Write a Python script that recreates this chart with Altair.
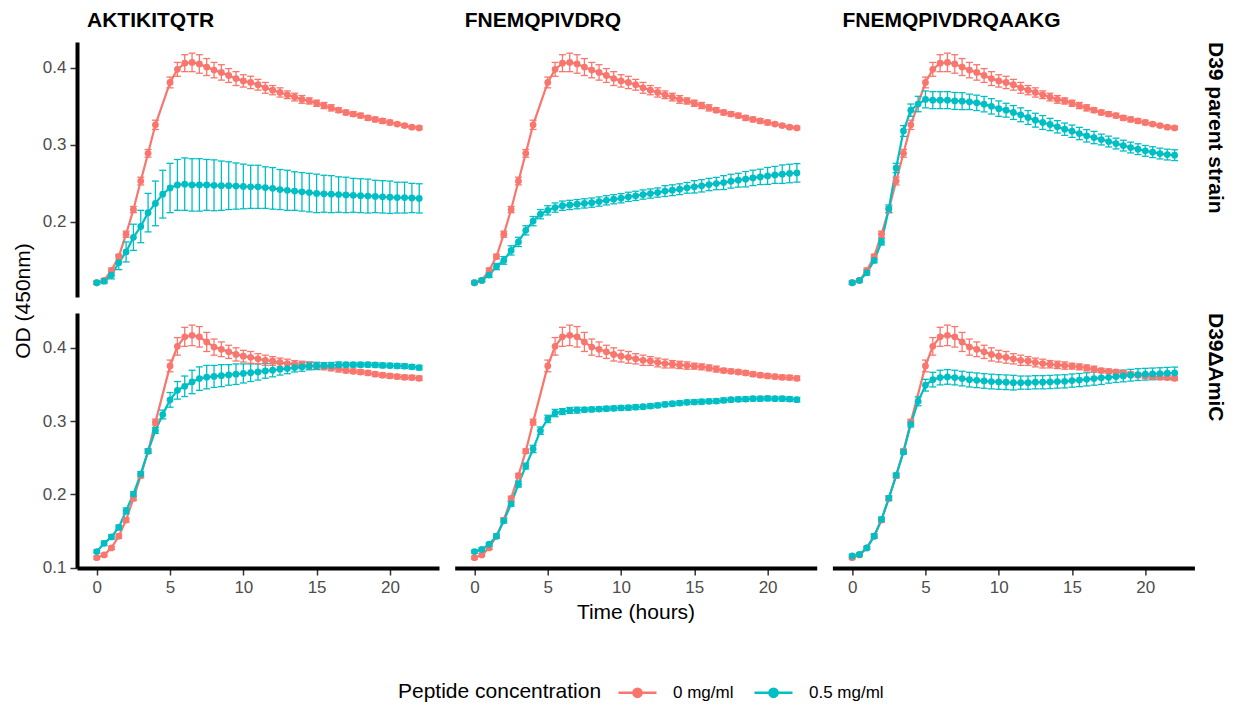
import altair as alt
import pandas as pd

FONT = "Liberation Sans"
RED = "#F8766D"
BLUE = "#00BFC4"

TIME = [0, 0.5, 1, 1.5, 2, 2.5, 3, 3.5, 4, 4.5, 5, 5.5, 6, 6.5, 7, 7.5, 8, 8.5, 9, 9.5,
        10, 10.5, 11, 11.5, 12, 12.5, 13, 13.5, 14, 14.5, 15, 15.5, 16, 16.5, 17, 17.5,
        18, 18.5, 19, 19.5, 20, 20.5, 21, 21.5, 22]

PEPTIDES = ["AKTIKITQTR", "FNEMQPIVDRQ", "FNEMQPIVDRQAAKG"]
STRAINS = ["D39 parent strain", "D39\u0394AmiC"]
CONCS = ["0 mg/ml", "0.5 mg/ml"]

# ---- D39 parent strain ----
RED_PARENT = [0.121, 0.124, 0.137, 0.155, 0.184, 0.216, 0.253, 0.289, 0.326, None,
              0.381, 0.398, 0.406, 0.407, 0.405, 0.401, 0.397, 0.394, 0.390, 0.386,
              0.383, 0.381, 0.378, 0.374, 0.371, 0.368, 0.365, 0.362, 0.359, 0.357,
              0.354, 0.351, 0.348, 0.345, 0.342, 0.340, 0.338, 0.335, 0.333, 0.331,
              0.329, 0.327, 0.325, 0.323, 0.322]
RED_PARENT_SE = [0.002, 0.002, 0.003, 0.003, 0.004, 0.004, 0.005, 0.005, 0.006, None,
                 0.007, 0.009, 0.011, 0.012, 0.012, 0.011, 0.010, 0.010, 0.009, 0.009,
                 0.008, 0.008, 0.007, 0.007, 0.006, 0.006, 0.005, 0.005, 0.005, 0.004,
                 0.004, 0.004, 0.004, 0.003, 0.003, 0.003, 0.003, 0.003, 0.003, 0.003,
                 0.003, 0.002, 0.002, 0.002, 0.002]

BLUE_PARENT_1 = [0.121, 0.123, 0.131, 0.147, 0.161, 0.180, 0.194, 0.212, 0.224, 0.236,
                 0.244, 0.248, 0.249, 0.248, 0.248, 0.248, 0.2475, 0.247, 0.247, 0.2465,
                 0.246, 0.2455, 0.2455, 0.2445, 0.2435, 0.242, 0.241, 0.240, 0.239, 0.238,
                 0.237, 0.2365, 0.236, 0.2355, 0.235, 0.2345, 0.234, 0.2335, 0.233, 0.2325,
                 0.232, 0.2315, 0.2315, 0.231, 0.2305]
BLUE_PARENT_1_SE = [0.002, 0.003, 0.005, 0.009, 0.013, 0.017, 0.021, 0.025, 0.029, 0.031,
                    0.032, 0.033, 0.034, 0.034, 0.034, 0.033, 0.033, 0.032, 0.031, 0.030,
                    0.029, 0.028, 0.028, 0.027, 0.027, 0.026, 0.026, 0.025, 0.025, 0.025,
                    0.025, 0.024, 0.024, 0.023, 0.023, 0.022, 0.022, 0.022, 0.021, 0.021,
                    0.021, 0.020, 0.020, 0.019, 0.019]

BLUE_PARENT_2 = [0.121, 0.124, 0.131, 0.142, 0.150, 0.163, 0.174, 0.189, 0.201, 0.210,
                 0.215, 0.2186, 0.221, 0.222, 0.223, 0.224, 0.225, 0.2264, 0.228, 0.2294,
                 0.2307, 0.2325, 0.2338, 0.2355, 0.2368, 0.2381, 0.240, 0.2411, 0.2424, 0.2442,
                 0.2455, 0.2468, 0.2485, 0.2498, 0.251, 0.2528, 0.2541, 0.2554, 0.2571, 0.2584,
                 0.2597, 0.261, 0.2619, 0.2628, 0.2636]
BLUE_PARENT_2_SE = [0.002, 0.002, 0.003, 0.004, 0.005, 0.006, 0.006, 0.006, 0.006, 0.006,
                    0.006, 0.006, 0.006, 0.006, 0.006, 0.006, 0.006, 0.006, 0.006, 0.006,
                    0.006, 0.006, 0.006, 0.006, 0.006, 0.006, 0.007, 0.007, 0.007, 0.007,
                    0.008, 0.008, 0.008, 0.008, 0.009, 0.009, 0.009, 0.010, 0.010, 0.010,
                    0.011, 0.011, 0.012, 0.012, 0.012]

BLUE_PARENT_3 = [0.121, 0.124, 0.134, 0.150, 0.174, 0.217, 0.270, 0.318, 0.345, 0.353,
                 0.359, 0.358, 0.358, 0.358, 0.357, 0.3567, 0.3558, 0.3545, 0.3528, 0.350,
                 0.347, 0.345, 0.342, 0.339, 0.3355, 0.332, 0.329, 0.3264, 0.3234, 0.3203,
                 0.3177, 0.3147, 0.3117, 0.3095, 0.3069, 0.3043, 0.3017, 0.299, 0.2965, 0.2944,
                 0.2922, 0.2905, 0.2887, 0.2874, 0.2866]
BLUE_PARENT_3_SE = [0.002, 0.002, 0.003, 0.003, 0.004, 0.005, 0.006, 0.007, 0.008, 0.010,
                    0.011, 0.011, 0.011, 0.011, 0.011, 0.011, 0.010, 0.010, 0.010, 0.010,
                    0.010, 0.009, 0.009, 0.009, 0.009, 0.009, 0.009, 0.008, 0.008, 0.008,
                    0.008, 0.008, 0.008, 0.008, 0.007, 0.007, 0.007, 0.007, 0.007, 0.007,
                    0.007, 0.007, 0.007, 0.007, 0.007]

# ---- D39 delta AmiC ----
RED_AMIC = [0.1137, 0.1174, 0.127, 0.143, 0.165, 0.1945, 0.2256, 0.259, 0.2986, None,
            0.3753, 0.402, 0.415, 0.417, 0.415, 0.408, 0.401, 0.398, 0.3945, 0.391,
            0.3886, 0.387, 0.385, 0.383, 0.382, 0.380, 0.3785, 0.3776, 0.3767, 0.3758,
            0.375, 0.374, 0.3726, 0.371, 0.369, 0.368, 0.367, 0.3658, 0.364, 0.3626,
            0.3616, 0.3607, 0.3598, 0.3594, 0.3584]
RED_AMIC_SE = [0.002, 0.002, 0.002, 0.003, 0.003, 0.003, 0.003, 0.003, 0.004, None,
               0.008, 0.012, 0.013, 0.014, 0.014, 0.013, 0.011, 0.010, 0.009, 0.009,
               0.008, 0.008, 0.007, 0.007, 0.006, 0.006, 0.006, 0.005, 0.005, 0.005,
               0.004, 0.004, 0.004, 0.004, 0.003, 0.003, 0.003, 0.003, 0.003, 0.003,
               0.003, 0.003, 0.003, 0.003, 0.003]

BLUE_AMIC_1 = [0.122, 0.1333, 0.142, 0.155, 0.1776, 0.2005, 0.228, 0.259, 0.2872, 0.309,
               0.329, 0.342, 0.3475, 0.3534, 0.358, 0.360, 0.361, 0.362, 0.363, 0.364,
               0.365, 0.366, 0.367, 0.3685, 0.3694, 0.3708, 0.3717, 0.373, 0.374, 0.375,
               0.3753, 0.3758, 0.376, 0.3767, 0.377, 0.377, 0.377, 0.377, 0.3767, 0.376,
               0.3758, 0.3753, 0.375, 0.374, 0.373]
BLUE_AMIC_1_SE = [0.002, 0.003, 0.003, 0.003, 0.004, 0.003, 0.003, 0.003, 0.004, 0.006,
                  0.010, 0.012, 0.014, 0.016, 0.016, 0.016, 0.015, 0.015, 0.014, 0.014,
                  0.013, 0.012, 0.011, 0.010, 0.009, 0.008, 0.007, 0.006, 0.006, 0.005,
                  0.005, 0.004, 0.004, 0.004, 0.003, 0.003, 0.003, 0.003, 0.003, 0.003,
                  0.003, 0.003, 0.003, 0.003, 0.003]

BLUE_AMIC_2 = [0.122, 0.125, 0.132, 0.143, 0.164, 0.187, 0.214, 0.2386, 0.262, 0.287,
               0.303, 0.311, 0.313, 0.3146, 0.315, 0.3155, 0.316, 0.3164, 0.317, 0.3174,
               0.318, 0.3183, 0.319, 0.3196, 0.3205, 0.3215, 0.3228, 0.3237, 0.3246, 0.3256,
               0.326, 0.3265, 0.327, 0.3274, 0.3283, 0.3292, 0.3297, 0.330, 0.3306, 0.3306,
               0.331, 0.3306, 0.3306, 0.330, 0.3292]
BLUE_AMIC_2_SE = [0.002, 0.002, 0.002, 0.003, 0.003, 0.003, 0.004, 0.004, 0.005, 0.005,
                  0.005, 0.005, 0.004, 0.004, 0.004, 0.003, 0.003, 0.003, 0.003, 0.003,
                  0.003, 0.003, 0.003, 0.003, 0.003, 0.003, 0.003, 0.003, 0.003, 0.003,
                  0.003, 0.003, 0.003, 0.003, 0.003, 0.003, 0.003, 0.003, 0.003, 0.003,
                  0.003, 0.003, 0.003, 0.003, 0.003]

BLUE_AMIC_3 = [0.116, 0.118, 0.127, 0.143, 0.166, 0.195, 0.226, 0.258, 0.296, 0.327,
               0.349, 0.3566, 0.3594, 0.3603, 0.3594, 0.358, 0.3566, 0.3557, 0.3548, 0.354,
               0.3534, 0.353, 0.3525, 0.3525, 0.3525, 0.353, 0.353, 0.3534, 0.354, 0.3543,
               0.3553, 0.356, 0.357, 0.358, 0.359, 0.3598, 0.3607, 0.3616, 0.3626, 0.3635,
               0.364, 0.3644, 0.3648, 0.3653, 0.3657]
BLUE_AMIC_3_SE = [0.002, 0.002, 0.002, 0.003, 0.003, 0.003, 0.003, 0.003, 0.004, 0.006,
                  0.008, 0.010, 0.010, 0.010, 0.010, 0.010, 0.010, 0.010, 0.010, 0.010,
                  0.010, 0.010, 0.010, 0.009, 0.009, 0.009, 0.009, 0.009, 0.009, 0.009,
                  0.009, 0.009, 0.009, 0.009, 0.009, 0.008, 0.008, 0.008, 0.008, 0.008,
                  0.008, 0.008, 0.008, 0.008, 0.008]

SERIES = [
    (STRAINS[0], PEPTIDES[0], CONCS[0], RED_PARENT, RED_PARENT_SE),
    (STRAINS[0], PEPTIDES[1], CONCS[0], RED_PARENT, RED_PARENT_SE),
    (STRAINS[0], PEPTIDES[2], CONCS[0], RED_PARENT, RED_PARENT_SE),
    (STRAINS[0], PEPTIDES[0], CONCS[1], BLUE_PARENT_1, BLUE_PARENT_1_SE),
    (STRAINS[0], PEPTIDES[1], CONCS[1], BLUE_PARENT_2, BLUE_PARENT_2_SE),
    (STRAINS[0], PEPTIDES[2], CONCS[1], BLUE_PARENT_3, BLUE_PARENT_3_SE),
    (STRAINS[1], PEPTIDES[0], CONCS[0], RED_AMIC, RED_AMIC_SE),
    (STRAINS[1], PEPTIDES[1], CONCS[0], RED_AMIC, RED_AMIC_SE),
    (STRAINS[1], PEPTIDES[2], CONCS[0], RED_AMIC, RED_AMIC_SE),
    (STRAINS[1], PEPTIDES[0], CONCS[1], BLUE_AMIC_1, BLUE_AMIC_1_SE),
    (STRAINS[1], PEPTIDES[1], CONCS[1], BLUE_AMIC_2, BLUE_AMIC_2_SE),
    (STRAINS[1], PEPTIDES[2], CONCS[1], BLUE_AMIC_3, BLUE_AMIC_3_SE),
]

rows = []
for strain, pep, conc, means, ses in SERIES:
    for t, m, s in zip(TIME, means, ses):
        if m is None:
            continue
        rows.append({"strain": strain, "peptide": pep, "conc": conc, "time": t,
                     "od": m, "lo": m - s, "hi": m + s})
df = pd.DataFrame(rows)

LEG_PATH = ("M-1,0H1M-0.22,0A0.22,0.22,0,1,1,0.22,0A0.22,0.22,0,1,1,-0.22,0Z")

color = alt.Color("conc:N", scale=alt.Scale(domain=CONCS, range=[RED, BLUE]),
                  legend=alt.Legend(title="Peptide concentration", orient="none",
                                    legendX=321, legendY=630, direction="horizontal",
                                    titleOrient="left", titleAnchor="middle",
                                    titleBaseline="line-top", titleLineHeight=10.4,
                                    symbolType=LEG_PATH,
                                    symbolSize=1444, symbolStrokeWidth=2.4,
                                    labelFontSize=17, titleFontSize=21,
                                    titleFontWeight="normal", titleColor="black",
                                    labelColor="black", labelOffset=15,
                                    columnPadding=15, titlePadding=15,
                                    titleLimit=500, labelLimit=300,
                                    titleFont=FONT, labelFont=FONT))

W, H = 362, 255


def row_chart(strain, ydom, yvals, top):
    data = df[df["strain"] == strain]
    xscale = alt.Scale(domain=[-1.35, 23.35], nice=False, zero=False)
    if top:
        xaxis = None
    else:
        xaxis = alt.Axis(values=[0, 5, 10, 15, 20], title=None)
    yscale = alt.Scale(domain=ydom, nice=False, zero=False)
    yaxis = alt.Axis(values=yvals, format=".1f", title=None)
    x = alt.X("time:Q", scale=xscale, axis=xaxis)
    base = alt.Chart(data)
    line = base.mark_line(strokeWidth=2.2).encode(
        x=x, y=alt.Y("od:Q", scale=yscale, axis=yaxis), color=color)
    err = base.mark_rule(strokeWidth=1.3).encode(
        x=x, y=alt.Y("lo:Q", scale=yscale, axis=yaxis), y2="hi:Q", color=color)
    cap_hi = base.mark_tick(orient="horizontal", size=7, thickness=1.3, opacity=1).encode(
        x=x, y=alt.Y("hi:Q", scale=yscale, axis=yaxis), color=color)
    cap_lo = base.mark_tick(orient="horizontal", size=7, thickness=1.3, opacity=1).encode(
        x=x, y=alt.Y("lo:Q", scale=yscale, axis=yaxis), color=color)
    pts = base.mark_circle(size=46, opacity=1).encode(
        x=x, y=alt.Y("od:Q", scale=yscale, axis=yaxis), color=color)
    layers = [line, err, cap_hi, cap_lo, pts]

    if top:
        # strip label of each panel, set a little in from the panel's left edge
        strip = base.mark_text(align="left", baseline="alphabetic", fontSize=21,
                               fontWeight="bold", font=FONT, color="black").encode(
            x=alt.value(10), y=alt.value(-15), text="peptide:N"
        ).transform_filter((alt.datum.time == 0) & (alt.datum.conc == CONCS[0]))
        layers.append(strip)
        col_header = alt.Header(title=None, labels=False)
    else:
        col_header = alt.Header(labels=False, title="Time (hours)", titleOrient="bottom",
                                titleFontSize=21, titleFontWeight="normal",
                                titleColor="black", titleFont=FONT, titlePadding=-3)
    layered = alt.layer(*layers).properties(width=W, height=H)

    row_header = alt.Header(title=None, labelOrient="right", labelAngle=90,
                            labelAnchor="start", labelAlign="left",
                            labelFontWeight="bold", labelFontSize=21, labelColor="black",
                            labelFont=FONT, labelPadding=10)
    return layered.facet(
        column=alt.Column("peptide:N", sort=PEPTIDES, header=col_header),
        row=alt.Row("strain:N", header=row_header),
        spacing={"column": 15.7, "row": 0},
    )


top = row_chart(STRAINS[0], [0.1025, 0.4335], [0.2, 0.3, 0.4], True)
bottom = row_chart(STRAINS[1], [0.0996, 0.4475], [0.1, 0.2, 0.3, 0.4], False)

chart = alt.vconcat(top, bottom, spacing=16).properties(
    title=alt.TitleParams("OD (450nm)", orient="left", anchor="middle", fontSize=21,
                          fontWeight="normal", color="black", font=FONT, offset=8,
                          dx=55),
    padding={"left": 5, "right": 5, "top": 2, "bottom": 5},
).configure(font=FONT).configure_view(stroke=None).configure_axis(
    grid=False, domainColor="black", domainWidth=4, tickColor="#333333",
    tickWidth=1.5, tickSize=7, labelColor="#4D4D4D", labelFontSize=17,
    labelFont=FONT, labelPadding=4
)

chart.save("out.html", embed_options={"renderer": "svg", "actions": False})
